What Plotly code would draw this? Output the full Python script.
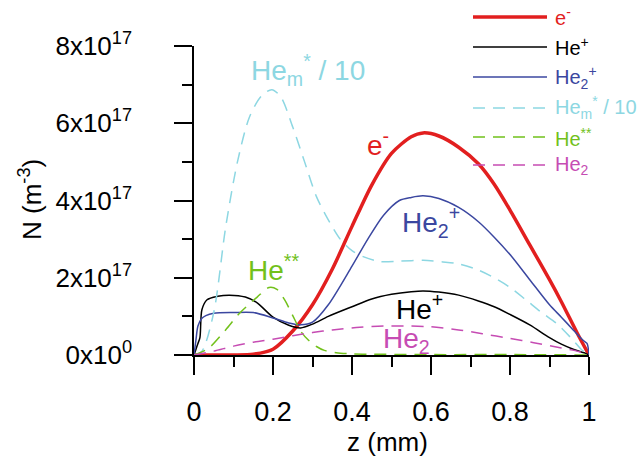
import numpy as np
import plotly.graph_objects as go

SCALE = 1e17
FONT = "Liberation Sans, Arial, sans-serif"

# ---- data (densities in units of 1e17 m^-3) ----
e_x = [0, 0.05, 0.1, 0.15, 0.2, 0.25, 0.3, 0.35, 0.4, 0.45, 0.5, 0.55, 0.58, 0.62, 0.67, 0.72, 0.76, 0.8, 0.85, 0.9, 0.93, 0.97, 1.0]
e_y = [0, 0.0, 0.0, 0.02, 0.15, 0.62, 1.3, 2.22, 3.33, 4.4, 5.22, 5.65, 5.75, 5.67, 5.38, 4.95, 4.42, 3.75, 2.85, 1.95, 1.38, 0.57, 0.0]

he2p_x = [0, 0.005, 0.01, 0.02, 0.03, 0.05, 0.1, 0.15, 0.2, 0.24, 0.27, 0.3, 0.34, 0.4, 0.44, 0.48, 0.52, 0.55, 0.58, 0.62, 0.67, 0.72, 0.76, 0.8, 0.85, 0.9, 0.93, 0.96, 0.985, 0.995, 1.0]
he2p_y = [0, 0.4, 0.75, 0.95, 1.02, 1.08, 1.1, 1.1, 0.96, 0.83, 0.78, 0.85, 1.3, 2.3, 3.0, 3.62, 4.0, 4.08, 4.12, 4.05, 3.82, 3.45, 3.05, 2.6, 1.95, 1.3, 0.98, 0.65, 0.38, 0.3, 0]

hep_x = [0, 0.005, 0.01, 0.015, 0.02, 0.033, 0.06, 0.09, 0.13, 0.16, 0.2, 0.24, 0.27, 0.3, 0.34, 0.4, 0.45, 0.5, 0.55, 0.58, 0.62, 0.67, 0.72, 0.76, 0.8, 0.85, 0.9, 0.93, 0.96, 0.99, 1.0]
hep_y = [0, 0.15, 0.3, 0.45, 1.17, 1.43, 1.52, 1.55, 1.5, 1.35, 0.98, 0.77, 0.7, 0.8, 1.0, 1.25, 1.45, 1.57, 1.64, 1.66, 1.63, 1.55, 1.4, 1.25, 1.05, 0.78, 0.45, 0.28, 0.15, 0.05, 0]

hem_x = [0, 0.02, 0.05, 0.08, 0.11, 0.14, 0.17, 0.197, 0.22, 0.25, 0.28, 0.31, 0.34, 0.37, 0.4, 0.43, 0.47, 0.52, 0.58, 0.63, 0.67, 0.72, 0.76, 0.8, 0.84, 0.88, 0.92, 0.96, 0.98, 1.0]
hem_y = [0, 0.1, 1.1, 3.3, 5.0, 6.15, 6.7, 6.87, 6.68, 5.9, 5.0, 4.1, 3.5, 3.0, 2.7, 2.54, 2.42, 2.43, 2.45, 2.41, 2.36, 2.2, 2.0, 1.75, 1.43, 1.1, 0.8, 0.38, 0.15, 0]

hess_x = [0, 0.02, 0.04, 0.08, 0.116, 0.16, 0.19, 0.21, 0.23, 0.25, 0.27, 0.29, 0.31, 0.33, 0.36, 0.4, 0.45, 0.6, 0.8, 1.0]
hess_y = [0, 0.08, 0.2, 0.65, 1.09, 1.5, 1.75, 1.7, 1.42, 1.02, 0.62, 0.38, 0.22, 0.12, 0.06, 0.03, 0.02, 0.01, 0.01, 0]

he2_x = [0, 0.05, 0.1, 0.15, 0.2, 0.25, 0.3, 0.35, 0.42, 0.48, 0.55, 0.6, 0.67, 0.73, 0.8, 0.86, 0.93, 0.97, 1.0]
he2_y = [0, 0.1, 0.23, 0.33, 0.41, 0.5, 0.58, 0.65, 0.72, 0.75, 0.75, 0.73, 0.65, 0.55, 0.43, 0.32, 0.18, 0.1, 0]

x_ticks = [0, 0.2, 0.4, 0.6, 0.8, 1]
x_ticktext = ["0", "0.2", "0.4", "0.6", "0.8", "1"]
y_ticks = [0, 2, 4, 6, 8]
y_ticktext = ["0x10<sup>0</sup>", "2x10<sup>17</sup>", "4x10<sup>17</sup>", "6x10<sup>17</sup>", "8x10<sup>17</sup>"]

series = [
    # name, x, y, color, width, dash
    ("e<sup>-</sup>", e_x, e_y, "#E21F1F", 3.5, "solid"),
    ("He<sup>+</sup>", hep_x, hep_y, "#000000", 1.5, "solid"),
    ("He<sub>2</sub><sup>+</sup>", he2p_x, he2p_y, "#3B47A0", 1.5, "solid"),
    ("He<sub>m</sub><sup>*</sup> / 10", hem_x, hem_y, "#8DD7E2", 1.5, "12px,8px"),
    ("He<sup>**</sup>", hess_x, hess_y, "#72C11B", 1.5, "12px,8px"),
    ("He<sub>2</sub>", he2_x, he2_y, "#C64CB3", 1.5, "12px,8px"),
]

fig = go.Figure()
for name, xs, ys, col, w, dash in series:
    fig.add_trace(go.Scatter(
        x=xs, y=np.array(ys) * SCALE, mode="lines", name=name,
        line=dict(color=col, width=w, dash=dash, shape="spline", smoothing=0.8),
        showlegend=False))

# plot area geometry in pixels
L, R, T, B = 194, 589, 46, 355
W, H = 641, 457
def px(xp):
    return (xp - L) / (R - L)
def py(yp):
    return (B - yp) / (B - T)

shapes = []
annotations = []
# manual legend
leg_rows = [17, 47, 77, 108, 137, 165]
for (name, xs, ys, col, w, dash), ry in zip(series, leg_rows):
    shapes.append(dict(type="line", xref="paper", yref="paper",
                       x0=px(473), x1=px(547), y0=py(ry), y1=py(ry),
                       line=dict(color=col, width=w, dash=dash)))
    annotations.append(dict(xref="paper", yref="paper", x=px(553), y=py(ry),
                            xanchor="left", yanchor="middle", text=name, showarrow=False,
                            font=dict(family=FONT, size=20, color=col)))

# in-plot labels
labels = [
    ("He<sub>m</sub><sup>*</sup> / 10", 308, 70, "#8DD7E2"),
    ("e<sup>-</sup>", 378, 143, "#E21F1F"),
    ("He<sub>2</sub><sup>+</sup>", 431, 222, "#3B47A0"),
    ("He<sup>**</sup>", 273, 268, "#72C11B"),
    ("He<sup>+</sup>", 419, 307, "#000000"),
    ("He<sub>2</sub>", 406, 340, "#C64CB3"),
]
for t, xx, yy, col in labels:
    annotations.append(dict(xref="paper", yref="paper", x=px(xx), y=py(yy),
                            xanchor="center", yanchor="middle", text=t, showarrow=False,
                            font=dict(family=FONT, size=28, color=col)))

# axis titles
annotations.append(dict(xref="paper", yref="paper", x=px(387), y=py(442),
                        xanchor="center", yanchor="middle", text="z (mm)", showarrow=False,
                        font=dict(family=FONT, size=26, color="black")))
annotations.append(dict(xref="paper", yref="paper", x=px(30), y=py(200),
                        xanchor="center", yanchor="middle", text="N (m<sup>-3</sup>)", showarrow=False,
                        textangle=-90, font=dict(family=FONT, size=26, color="black")))

fig.update_layout(
    width=W, height=H,
    margin=dict(l=L, r=W - R, t=T, b=H - B, pad=0),
    paper_bgcolor="white", plot_bgcolor="white",
    font=dict(family=FONT, color="black"),
    shapes=shapes, annotations=annotations,
    xaxis=dict(range=[0, 1], tickmode="array", tickvals=x_ticks, ticktext=x_ticktext,
               ticks="outside", ticklen=18, tickwidth=1.5, tickcolor="black",
               showline=True, linecolor="black", linewidth=1.5, showgrid=False, zeroline=False,
               tickfont=dict(family=FONT, size=27), ticklabelstandoff=14,
               minor=dict(tickmode="array", tickvals=[0.1, 0.3, 0.5, 0.7, 0.9], ticks="outside",
                          ticklen=10, tickwidth=1.5, tickcolor="black", showgrid=False),
               layer="below traces"),
    yaxis=dict(range=[0, 8 * SCALE], tickmode="array", tickvals=[v * SCALE for v in y_ticks],
               ticktext=y_ticktext,
               ticks="outside", ticklen=18, tickwidth=1.5, tickcolor="black",
               showline=True, linecolor="black", linewidth=1.5, showgrid=False, zeroline=False,
               tickfont=dict(family=FONT, size=26), ticklabelstandoff=37,
               minor=dict(tickmode="array", tickvals=[v * SCALE for v in [1, 3, 5, 7]], ticks="outside",
                          ticklen=10, tickwidth=1.5, tickcolor="black", showgrid=False),
               layer="below traces"),
)

fig.write_html("out.html")
